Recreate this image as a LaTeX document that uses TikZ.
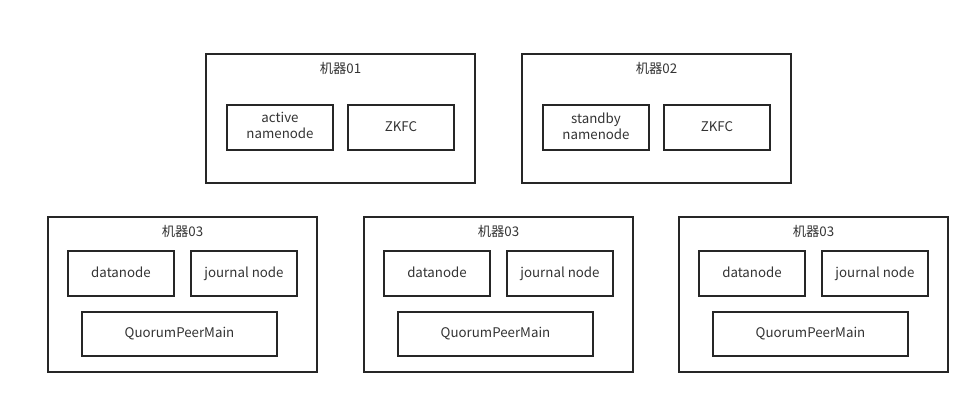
\documentclass[tikz,border=0pt]{standalone}
\usepackage{fontspec}
\setmainfont{Noto Sans CJK SC}
\usepackage{tikz}
\usetikzlibrary{positioning}

\begin{document}
\begin{tikzpicture}[x=1pt,y=-1pt,
    font=\fontsize{13.3}{16}\selectfont,
    machine/.style={draw=black!85,line width=1.3pt,inner sep=0pt},
    proc/.style={draw=black!85,line width=1.3pt,minimum width=106pt,
      minimum height=45pt,align=center,text=black!80,inner sep=0pt,
      execute at begin node={\rule[-0.25em]{0pt}{1.1em}}},
    title/.style={text=black!80,inner sep=0pt}]
  \useasboundingbox (0,0) rectangle (980,404);
  % Top row: name nodes
  \node[machine,minimum width=269pt,minimum height=129pt] (m1) at (340.5,118.5) {};
  \node[title] (t1) at (340.5,68.5) {机器01};
  \node[proc] (nn1) at (280,127.5) {active\\namenode};
  \node[proc] (zk1) at (401,127.5) {ZKFC};
  \node[machine,minimum width=269pt,minimum height=129pt] (m2) at (656.5,118.5) {};
  \node[title] (t2) at (656.5,68.5) {机器02};
  \node[proc] (nn2) at (596,127.5) {standby\\namenode};
  \node[proc] (zk2) at (717,127.5) {ZKFC};
  % Bottom row: data nodes
  \foreach \i/\cx in {3/182.5,4/498.5,5/813.5} {
    \node[machine,minimum width=269pt,minimum height=155pt] (m\i) at (\cx,294.5) {};
    \node[title] (t\i) at (\cx,231.5) {机器03};
    \node[proc] (dn\i) at (\cx-61.5,273.5) {datanode};
    \node[proc] (jn\i) at (\cx+61.5,273.5) {journal node};
    \node[proc,minimum width=195pt,minimum height=44pt] (qp\i) at (\cx-3,334) {QuorumPeerMain};
  }
\end{tikzpicture}
\end{document}
